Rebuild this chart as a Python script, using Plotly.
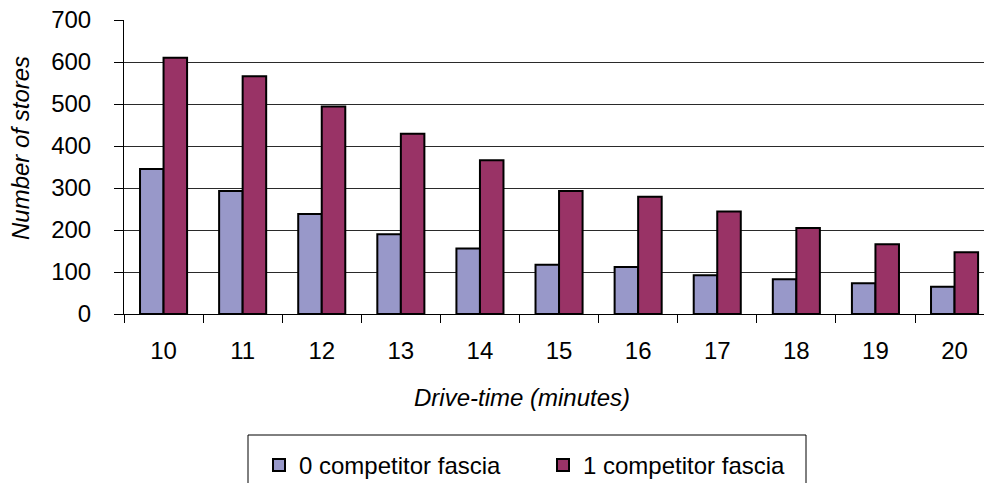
import plotly.graph_objects as go

# Drive-time bands (minutes)
drive_times = ["10", "11", "12", "13", "14", "15", "16", "17", "18", "19", "20"]
# Number of stores by competitor count within the drive-time
zero_competitor = [345, 293, 238, 190, 156, 117, 112, 92, 83, 73, 65]
one_competitor = [610, 566, 494, 429, 366, 293, 279, 244, 205, 166, 147]
y_ticks = [0, 100, 200, 300, 400, 500, 600, 700]

FONT = "Liberation Sans, Arial, sans-serif"
FS = 24
W, H = 984, 483
L, R, T, B = 124, 0, 20, 169
cat_px = 79.1  # pixel width of one drive-time band
plot_w = W - L - R
plot_h = H - T - B


def px_x(px):
    """Pixel column -> paper x."""
    return (px - L) / plot_w


def px_y(py):
    """Pixel row -> paper y."""
    return ((H - B) - py) / plot_h


fig = go.Figure()
fig.add_trace(go.Bar(
    x=drive_times, y=zero_competitor, name="0 competitor fascia",
    marker=dict(color="#9898c9", line=dict(color="#000000", width=2)),
))
fig.add_trace(go.Bar(
    x=drive_times, y=one_competitor, name="1 competitor fascia",
    marker=dict(color="#993366", line=dict(color="#000000", width=2)),
))

fig.update_layout(
    width=W, height=H,
    margin=dict(l=L, r=R, t=T, b=B, pad=0, autoexpand=False),
    paper_bgcolor="white", plot_bgcolor="white",
    barmode="group", bargap=0.405, bargroupgap=0,
    font=dict(family=FONT, size=FS, color="#000000"),
    showlegend=True,
    legend=dict(
        orientation="h",
        xref="container", yref="container",
        x=259 / W, xanchor="left",
        y=1 - 443 / H, yanchor="top",
        borderwidth=0, bgcolor="rgba(0,0,0,0)",
        font=dict(family=FONT, size=FS),
        itemwidth=30,
        entrywidth=239, entrywidthmode="pixels",
        traceorder="normal",
    ),
    xaxis=dict(
        type="category",
        range=[-0.5, -0.5 + plot_w / cat_px],
        showline=True, linecolor="#000000", linewidth=1,
        ticks="outside", tickson="boundaries", ticklen=8,
        tickcolor="#000000", tickwidth=1,
        ticklabelstandoff=15,
        showgrid=False, zeroline=False,
        automargin=False,
    ),
    yaxis=dict(
        range=[0, 700], tickvals=y_ticks,
        showline=True, linecolor="#000000", linewidth=1,
        ticks="outside", ticklen=9, tickcolor="#000000", tickwidth=1,
        ticklabelstandoff=18,
        showgrid=True, gridcolor="#2a2a2a", gridwidth=1,
        zeroline=False,
        automargin=False,
    ),
    annotations=[
        dict(text="<i>Number of stores</i>", x=px_x(20), y=px_y(148),
             xref="paper", yref="paper", showarrow=False,
             xanchor="center", yanchor="middle",
             textangle=-90, font=dict(family=FONT, size=FS)),
        dict(text="<i>Drive-time (minutes)</i>", x=px_x(522), y=px_y(398),
             xref="paper", yref="paper", showarrow=False,
             xanchor="center", yanchor="middle",
             font=dict(family=FONT, size=FS)),
    ],
    shapes=[
        # legend frame
        dict(type="rect", xref="paper", yref="paper",
             x0=px_x(248), x1=px_x(806), y0=px_y(435), y1=px_y(520),
             line=dict(color="#000000", width=1), fillcolor="rgba(0,0,0,0)"),
    ],
)

fig.write_html("out.html")
